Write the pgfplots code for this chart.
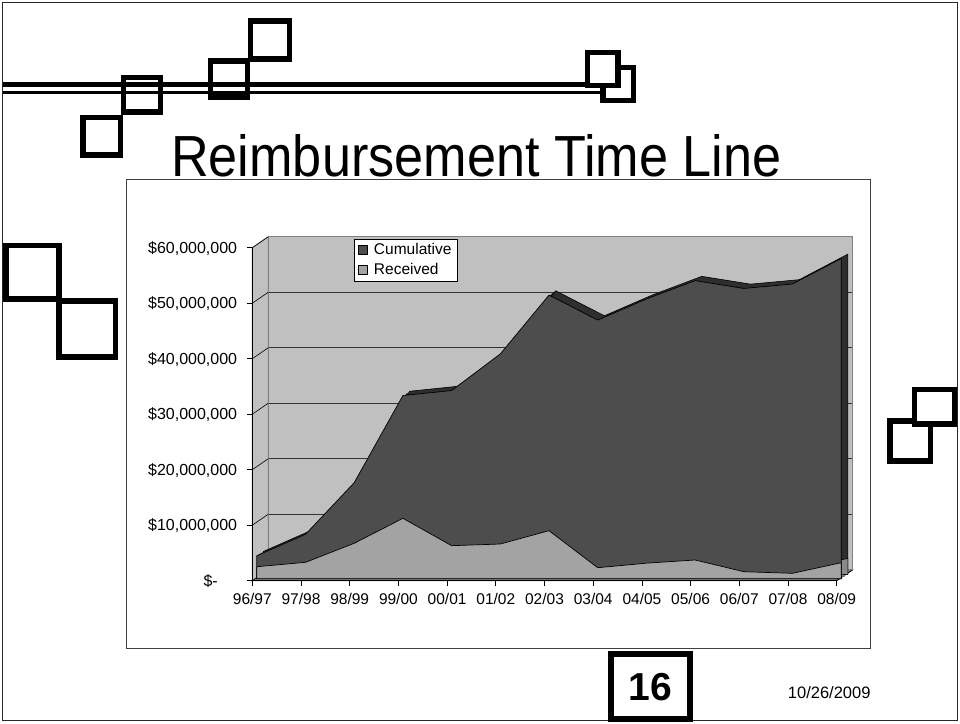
\documentclass[border=0pt]{standalone}
\usepackage{fontspec}
\setmainfont{Liberation Sans}
\newfontfamily\titlefont[FakeStretch=0.9]{Liberation Sans}
\usepackage{pgfplots}
\usepackage{pgfplotstable}
\pgfplotsset{compat=1.18}

\definecolor{wall}{HTML}{C0C0C0}
\definecolor{cumf}{HTML}{4D4D4D}
\definecolor{cumr}{HTML}{2E2E2E}
\definecolor{recf}{HTML}{A3A3A3}
\definecolor{recr}{HTML}{8A8A8A}
\definecolor{floorc}{HTML}{969696}

% values in millions of dollars
\pgfplotstableread{
x cum rec
0 4.14 2.16
1 8.0 2.95
2 17.3 6.38
3 33.0 10.88
4 33.9 5.95
5 40.5 6.25
6 51.1 8.65
7 46.6 1.98
8 50.4 2.80
9 53.7 3.37
10 52.3 1.26
11 53.1 0.97
12 57.7 2.88
}\datatable

\pgfplotsset{
  base/.style={width=584.4pt,height=333pt,scale only axis,
    xmin=0,xmax=12,ymin=0,ymax=60,enlargelimits=false,anchor=south west,
    /pgf/number format/assume math mode=true},
  data/.style={base,axis lines=none,clip=false},
}

\begin{document}
\begin{tikzpicture}[x=1pt,y=1pt]
\useasboundingbox (0,0) rectangle (960,723);
\fill[white] (0,0) rectangle (960,723);
\draw[black!85,line width=1.5pt] (2.5,2.5) rectangle (957.5,720.5);

% decorative lines and squares
\draw[line width=5pt] (3,638.7) -- (602,638.7);
\draw[line width=3.5pt] (3,630.5) -- (602,630.5);
\begin{scope}[line width=5.5pt]
\draw (123.25,610.75) rectangle (160.25,645.25);
\draw (82.75,567.75) rectangle (120.25,605.25);
\draw (210.35,625.75) rectangle (247.25,661.95);
\draw (250.55,664.05) rectangle (289.65,701.95);
\draw (603.15,622.45) rectangle (633.25,655.25);
\draw[fill=white] (587.55,637.45) rectangle (617.75,670.25);
\draw (5.75,424.05) rectangle (58.95,477.55);
\draw (58.75,365.75) rectangle (115.55,421.95);
\draw (890.05,261.75) rectangle (930.55,301.95);
\draw[fill=white] (914.45,299.05) rectangle (954.55,333.55);
\end{scope}

\node[anchor=base west,inner sep=0pt] at (171,546)
  {\titlefont\fontsize{58}{64}\selectfont Reimbursement Time Line};

% page number and date
\draw[line width=6pt] (611.3,4) rectangle (690.3,69.3);
\node[anchor=base west,inner sep=0pt] at (628.3,22.3)
  {\bfseries\fontsize{39}{44}\selectfont 16};
\node[anchor=base west,inner sep=0pt] at (787.7,24.7)
  {\fontsize{16.5}{20}\selectfont 10/26/2009};

% chart box
\draw[black!75,line width=1pt,fill=white] (126,75) rectangle (870,543);

% side wall and floor
\draw[fill=wall,draw=black!50,line width=0.8pt]
  (252.3,142.3) -- (252.3,475.3) -- (268.3,486.3) -- (268.3,153.3) -- cycle;
\draw[fill=floorc,draw=black!50,line width=0.8pt]
  (252.3,142.3) -- (836.7,142.3) -- (852.7,153.3) -- (268.3,153.3) -- cycle;
\draw[black,line width=0.8pt] (836.7,142.3) -- (852.7,153.3);

% back wall with gridlines
\begin{axis}[base,at={(268.3pt,153.3pt)},
  axis background/.style={fill=wall},
  axis line style={draw=black!50,line width=0.8pt},
  xtick=\empty,ytick={10,20,30,40,50},yticklabels={},
  ymajorgrids,major grid style={black!80,line width=0.6pt},
  major tick length=0pt]
\addplot[draw=none] coordinates {(0,0)};
\end{axis}

\foreach \v in {0,...,6}{
  \draw[black,line width=0.6pt] (252.3,{142.3+55.5*\v}) -- (268.3,{153.3+55.5*\v});
}

% front axis: ticks and labels
\begin{axis}[base,at={(252.3pt,142.3pt)},
  axis x line*=bottom,axis y line*=left,
  axis line style={black,line width=0.8pt,-},
  tick align=outside,major tick length=5pt,
  tick style={black,line width=0.8pt},
  xtick={0,...,12},
  xticklabels={96/97,97/98,98/99,99/00,00/01,01/02,02/03,03/04,04/05,05/06,06/07,07/08,08/09},
  ytick={0,10,20,30,40,50,60},
  yticklabels={{\$-\rule{19.3pt}{0pt}},{\$10,000,000},{\$20,000,000},{\$30,000,000},{\$40,000,000},{\$50,000,000},{\$60,000,000}},
  ticklabel style={font=\fontsize{15.5}{18}\selectfont},
  yticklabel style={anchor=base east,inner sep=0pt,xshift=-10pt,yshift=-5.5pt,
    font=\fontsize{16}{18}\selectfont},
  xticklabel style={anchor=base,inner sep=0pt,yshift=-18.6pt}]
\addplot[draw=none] coordinates {(0,0)};
\end{axis}

% depth of the series
\begin{axis}[data,at={(260.15pt,146.45pt)}]
\addplot[fill=cumr,draw=none] table[x=x,y=cum]{\datatable} \closedcycle;
\addplot[fill=recr,draw=none] table[x=x,y=rec]{\datatable} \closedcycle;
\end{axis}
\begin{axis}[data,at={(263.5pt,148.6pt)}]
\addplot[fill=cumr,draw=black,line width=0.6pt] table[x=x,y=cum]{\datatable} \closedcycle;
\addplot[fill=recr,draw=black,line width=0.6pt] table[x=x,y=rec]{\datatable} \closedcycle;
\end{axis}

% front faces and legend
\begin{axis}[data,at={(256.8pt,144.3pt)},
  legend image code/.code={\draw[#1,draw=black,line width=0.6pt] (0pt,-4.5pt) rectangle (9pt,4.5pt);},
  legend cell align=left,
  legend style={at={(0.1668,1.021)},anchor=north west,draw=black,line width=0.8pt,fill=white,
    inner xsep=3.2pt,inner ysep=1pt,row sep=0pt,column sep=4pt,
    font=\fontsize{15.5}{18}\selectfont,
    nodes={inner sep=2.5pt,text height=11.5pt,text depth=3.5pt}}]
\addplot[fill=cumf,draw=black,line width=0.7pt] table[x=x,y=cum]{\datatable} \closedcycle;
\addlegendentry{Cumulative}
\addplot[fill=recf,draw=black,line width=0.7pt] table[x=x,y=rec]{\datatable} \closedcycle;
\addlegendentry{Received}
\end{axis}
\end{tikzpicture}
\end{document}
